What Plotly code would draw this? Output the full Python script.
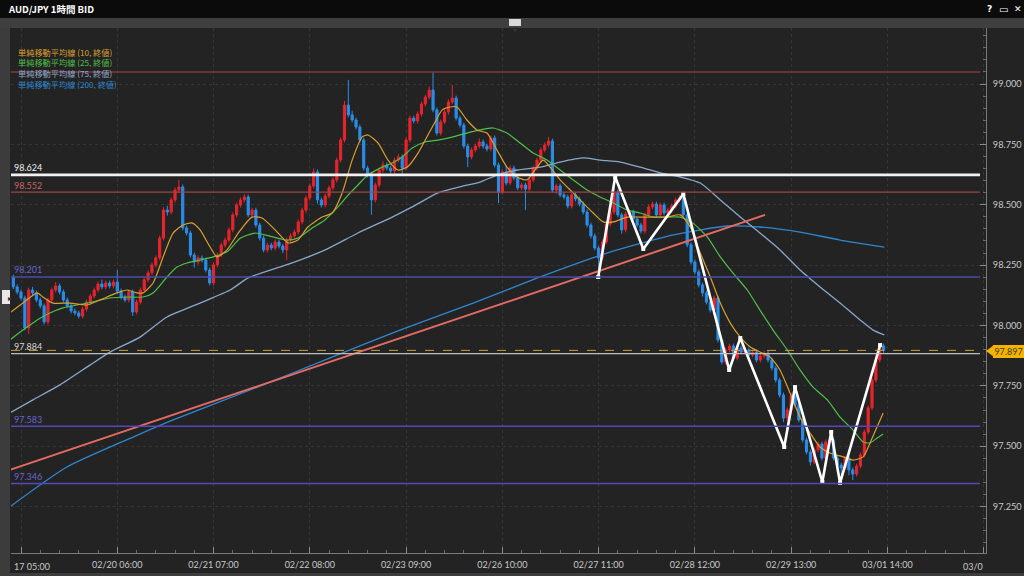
import plotly.graph_objects as go

# ---------------- data ----------------
bar_no = list(range(-2, 225))

opens = [
98.201, 98.160, 98.139, 98.114, 97.990, 98.147, 98.135, 98.106, 98.081, 98.015,
98.106, 98.147, 98.164, 98.139, 98.106, 98.081, 98.060, 98.052, 98.039, 98.068,
98.097, 98.122, 98.147, 98.172, 98.160, 98.176, 98.164, 98.180, 98.143, 98.118,
98.106, 98.139, 98.056, 98.097, 98.147, 98.189, 98.218, 98.251, 98.280, 98.362,
98.478, 98.470, 98.520, 98.561, 98.574, 98.404, 98.383, 98.292, 98.263, 98.280,
98.271, 98.230, 98.176, 98.251, 98.292, 98.333, 98.354, 98.396, 98.458, 98.499,
98.520, 98.532, 98.458, 98.478, 98.416, 98.362, 98.313, 98.333, 98.321, 98.346,
98.329, 98.313, 98.354, 98.371, 98.387, 98.429, 98.478, 98.528, 98.578, 98.636,
98.520, 98.499, 98.536, 98.570, 98.603, 98.685, 98.768, 98.913, 98.872, 98.851,
98.822, 98.768, 98.652, 98.623, 98.520, 98.582, 98.644, 98.665, 98.652, 98.640,
98.685, 98.698, 98.652, 98.768, 98.859, 98.847, 98.876, 98.917, 98.946, 98.975,
98.893, 98.797, 98.843, 98.884, 98.926, 98.942, 98.859, 98.830, 98.743, 98.698,
98.727, 98.743, 98.760, 98.743, 98.731, 98.777, 98.665, 98.553, 98.636, 98.590,
98.652, 98.611, 98.570, 98.582, 98.565, 98.603, 98.652, 98.685, 98.727, 98.748,
98.764, 98.561, 98.578, 98.541, 98.532, 98.495, 98.541, 98.524, 98.503, 98.470,
98.416, 98.371, 98.321, 98.280, 98.346, 98.420, 98.470, 98.553, 98.458, 98.396,
98.462, 98.470, 98.441, 98.416, 98.391, 98.458, 98.491, 98.503, 98.458, 98.499,
98.466, 98.478, 98.495, 98.520, 98.528, 98.458, 98.334, 98.263, 98.222, 98.168,
98.135, 98.097, 98.064, 98.114, 97.940, 97.849, 97.899, 97.915, 97.866, 97.907,
97.890, 97.899, 97.878, 97.890, 97.857, 97.874, 97.886, 97.857, 97.824, 97.774,
97.712, 97.617, 97.650, 97.708, 97.671, 97.609, 97.526, 97.476, 97.435, 97.485,
97.509, 97.451, 97.518, 97.526, 97.451, 97.422, 97.410, 97.451, 97.402, 97.385,
97.418, 97.464, 97.559, 97.659, 97.774, 97.857, 97.915]

highs = [
98.211, 98.170, 98.149, 98.124, 98.157, 98.160, 98.145, 98.116, 98.091, 98.116,
98.157, 98.180, 98.174, 98.149, 98.116, 98.091, 98.070, 98.062, 98.078, 98.107,
98.132, 98.157, 98.182, 98.190, 98.186, 98.186, 98.190, 98.230, 98.153, 98.128,
98.149, 98.149, 98.107, 98.157, 98.199, 98.228, 98.261, 98.290, 98.372, 98.490,
98.495, 98.530, 98.571, 98.603, 98.584, 98.414, 98.393, 98.302, 98.290, 98.290,
98.281, 98.240, 98.261, 98.302, 98.343, 98.364, 98.406, 98.468, 98.509, 98.530,
98.545, 98.542, 98.488, 98.488, 98.426, 98.372, 98.343, 98.343, 98.356, 98.356,
98.339, 98.364, 98.381, 98.397, 98.439, 98.488, 98.538, 98.588, 98.650, 98.646,
98.530, 98.546, 98.580, 98.613, 98.695, 98.778, 98.930, 99.017, 98.890, 98.861,
98.832, 98.778, 98.662, 98.633, 98.592, 98.654, 98.680, 98.675, 98.662, 98.695,
98.710, 98.708, 98.778, 98.869, 98.869, 98.886, 98.927, 98.956, 98.990, 99.050,
98.903, 98.853, 98.894, 98.936, 98.996, 98.952, 98.869, 98.840, 98.753, 98.737,
98.753, 98.775, 98.770, 98.753, 98.787, 98.787, 98.675, 98.646, 98.660, 98.662,
98.662, 98.621, 98.592, 98.592, 98.613, 98.662, 98.695, 98.737, 98.758, 98.780,
98.774, 98.588, 98.588, 98.551, 98.542, 98.551, 98.551, 98.534, 98.513, 98.480,
98.426, 98.381, 98.331, 98.356, 98.430, 98.480, 98.615, 98.563, 98.468, 98.472,
98.480, 98.480, 98.451, 98.426, 98.468, 98.501, 98.513, 98.513, 98.509, 98.509,
98.488, 98.505, 98.530, 98.540, 98.538, 98.468, 98.344, 98.273, 98.232, 98.178,
98.145, 98.107, 98.124, 98.124, 97.950, 97.909, 97.925, 97.925, 97.917, 97.917,
97.909, 97.909, 97.900, 97.900, 97.884, 97.896, 97.896, 97.867, 97.834, 97.784,
97.722, 97.660, 97.720, 97.718, 97.681, 97.619, 97.536, 97.486, 97.495, 97.519,
97.519, 97.528, 97.540, 97.536, 97.461, 97.432, 97.461, 97.461, 97.412, 97.428,
97.474, 97.569, 97.669, 97.784, 97.867, 97.925, 97.925]

lows = [
98.150, 98.129, 98.104, 97.980, 97.965, 98.125, 98.096, 98.071, 98.005, 98.005,
98.096, 98.137, 98.129, 98.096, 98.071, 98.050, 98.042, 98.029, 98.029, 98.058,
98.087, 98.112, 98.137, 98.150, 98.150, 98.154, 98.154, 98.133, 98.108, 98.096,
98.096, 98.040, 98.046, 98.087, 98.137, 98.179, 98.208, 98.241, 98.270, 98.352,
98.455, 98.460, 98.510, 98.551, 98.394, 98.373, 98.282, 98.240, 98.253, 98.261,
98.220, 98.166, 98.166, 98.241, 98.282, 98.323, 98.344, 98.386, 98.448, 98.489,
98.510, 98.448, 98.448, 98.406, 98.352, 98.303, 98.303, 98.311, 98.311, 98.319,
98.300, 98.271, 98.344, 98.361, 98.377, 98.419, 98.468, 98.518, 98.568, 98.505,
98.489, 98.489, 98.526, 98.560, 98.593, 98.675, 98.758, 98.862, 98.841, 98.812,
98.758, 98.642, 98.613, 98.458, 98.510, 98.572, 98.634, 98.642, 98.630, 98.630,
98.675, 98.620, 98.642, 98.758, 98.837, 98.837, 98.866, 98.907, 98.936, 98.883,
98.787, 98.787, 98.833, 98.874, 98.916, 98.849, 98.820, 98.733, 98.656, 98.688,
98.717, 98.733, 98.733, 98.721, 98.721, 98.655, 98.507, 98.543, 98.580, 98.580,
98.601, 98.560, 98.560, 98.478, 98.555, 98.593, 98.642, 98.675, 98.717, 98.738,
98.551, 98.545, 98.531, 98.522, 98.485, 98.485, 98.514, 98.493, 98.460, 98.406,
98.361, 98.311, 98.209, 98.270, 98.336, 98.410, 98.460, 98.448, 98.380, 98.386,
98.452, 98.431, 98.406, 98.381, 98.381, 98.448, 98.481, 98.448, 98.448, 98.456,
98.456, 98.468, 98.485, 98.510, 98.448, 98.324, 98.253, 98.212, 98.158, 98.120,
98.087, 98.054, 98.054, 97.930, 97.839, 97.839, 97.889, 97.856, 97.856, 97.880,
97.880, 97.868, 97.868, 97.847, 97.847, 97.864, 97.847, 97.814, 97.764, 97.702,
97.600, 97.607, 97.640, 97.661, 97.599, 97.516, 97.466, 97.420, 97.425, 97.475,
97.441, 97.441, 97.508, 97.441, 97.390, 97.370, 97.400, 97.380, 97.360, 97.375,
97.408, 97.454, 97.549, 97.649, 97.764, 97.847, 97.887]

closes = [
98.160, 98.139, 98.114, 97.990, 98.147, 98.135, 98.106, 98.081, 98.015, 98.106,
98.147, 98.164, 98.139, 98.106, 98.081, 98.060, 98.052, 98.039, 98.068, 98.097,
98.122, 98.147, 98.172, 98.160, 98.176, 98.164, 98.180, 98.143, 98.118, 98.106,
98.139, 98.056, 98.097, 98.147, 98.189, 98.218, 98.251, 98.280, 98.362, 98.478,
98.470, 98.520, 98.561, 98.574, 98.404, 98.383, 98.292, 98.263, 98.280, 98.271,
98.230, 98.176, 98.251, 98.292, 98.333, 98.354, 98.396, 98.458, 98.499, 98.520,
98.532, 98.458, 98.478, 98.416, 98.362, 98.313, 98.333, 98.321, 98.346, 98.329,
98.313, 98.354, 98.371, 98.387, 98.429, 98.478, 98.528, 98.578, 98.636, 98.520,
98.499, 98.536, 98.570, 98.603, 98.685, 98.768, 98.913, 98.872, 98.851, 98.822,
98.768, 98.652, 98.623, 98.520, 98.582, 98.644, 98.665, 98.652, 98.640, 98.685,
98.698, 98.652, 98.768, 98.859, 98.847, 98.876, 98.917, 98.946, 98.975, 98.893,
98.797, 98.843, 98.884, 98.926, 98.942, 98.859, 98.830, 98.743, 98.698, 98.727,
98.743, 98.760, 98.743, 98.731, 98.777, 98.665, 98.553, 98.636, 98.590, 98.652,
98.611, 98.570, 98.582, 98.565, 98.603, 98.652, 98.685, 98.727, 98.748, 98.764,
98.561, 98.578, 98.541, 98.532, 98.495, 98.541, 98.524, 98.503, 98.470, 98.416,
98.371, 98.321, 98.280, 98.346, 98.420, 98.470, 98.553, 98.458, 98.396, 98.462,
98.470, 98.441, 98.416, 98.391, 98.458, 98.491, 98.503, 98.458, 98.499, 98.466,
98.478, 98.495, 98.520, 98.528, 98.458, 98.334, 98.263, 98.222, 98.168, 98.135,
98.097, 98.064, 98.114, 97.940, 97.849, 97.899, 97.915, 97.866, 97.907, 97.890,
97.899, 97.878, 97.890, 97.857, 97.874, 97.886, 97.857, 97.824, 97.774, 97.712,
97.617, 97.650, 97.708, 97.671, 97.609, 97.526, 97.476, 97.435, 97.485, 97.509,
97.451, 97.518, 97.526, 97.451, 97.422, 97.410, 97.451, 97.402, 97.385, 97.418,
97.464, 97.559, 97.659, 97.774, 97.857, 97.915, 97.897]

# simple moving averages (bar position, price)
sma10_bar = [-2.9, 0.5, 4.2, 5.7, 8.3, 12.7, 17.1, 20.5, 24.9, 27.5, 30.1, 31.7, 34.3, 36.9, 39.5,
             42.1, 44.4, 46.5, 49.1, 50.9, 53.5, 56.4, 60.0, 62.6, 66.0, 69.4, 71.9, 74.5, 78.2,
             80.8, 83.4, 86.0, 88.6, 90.1, 92.7, 95.3, 97.9, 100.3, 103.1, 106.8, 109.4, 111.4,
             113.2, 115.8, 118.4, 121.0, 123.6, 126.2, 128.8, 131.4, 134.0, 135.6, 137.4, 140.0,
             143.4, 146.0, 148.6, 151.2, 153.8, 157.4, 160.8, 164.2, 167.8, 171.2, 173.8, 176.4,
             179.0, 181.6, 184.2, 186.8, 189.4, 191.9, 194.5, 197.1, 199.7, 202.3, 204.9, 207.5,
             210.1, 213.5, 216.1, 218.7, 220.5, 222.3, 223.9]
sma10_val = [98.052, 98.093, 98.135, 98.118, 98.093, 98.093, 98.085, 98.106, 98.135, 98.147, 98.135,
             98.135, 98.176, 98.284, 98.383, 98.416, 98.425, 98.396, 98.325, 98.284, 98.313, 98.383,
             98.449, 98.445, 98.396, 98.342, 98.354, 98.408, 98.449, 98.466, 98.549, 98.685, 98.781,
             98.789, 98.756, 98.685, 98.644, 98.656, 98.714, 98.822, 98.893, 98.905, 98.905, 98.851,
             98.810, 98.797, 98.727, 98.656, 98.615, 98.603, 98.656, 98.685, 98.656, 98.603, 98.549,
             98.507, 98.466, 98.429, 98.429, 98.449, 98.449, 98.449, 98.449, 98.458, 98.408, 98.300,
             98.201, 98.093, 98.010, 97.952, 97.911, 97.890, 97.870, 97.816, 97.721, 97.621, 97.555,
             97.497, 97.472, 97.456, 97.443, 97.456, 97.514, 97.580, 97.638]

sma25_bar = [-2.9, 0.5, 4.2, 7.5, 10.9, 14.5, 18.7, 23.1, 27.5, 31.7, 34.3, 37.9, 40.5, 43.1, 46.5,
             49.9, 53.5, 57.0, 60.8, 64.4, 68.9, 71.9, 75.6, 78.9, 82.3, 85.0, 87.5, 90.1, 93.8,
             96.4, 99.0, 101.6, 104.9, 108.3, 112.2, 115.8, 119.2, 122.6, 126.2, 129.6, 133.0,
             136.6, 140.0, 143.4, 147.0, 150.4, 153.8, 157.4, 160.8, 164.2, 167.8, 171.2, 174.5,
             178.2, 181.6, 184.9, 188.6, 191.9, 195.3, 199.0, 202.3, 205.7, 209.4, 212.7, 216.1,
             218.7, 220.5, 222.3, 223.9]
sma25_val = [97.940, 97.981, 98.023, 98.052, 98.073, 98.085, 98.098, 98.114, 98.118, 98.118, 98.135,
             98.201, 98.242, 98.259, 98.271, 98.284, 98.305, 98.362, 98.383, 98.371, 98.354, 98.362,
             98.404, 98.437, 98.491, 98.541, 98.582, 98.623, 98.656, 98.673, 98.698, 98.735, 98.760,
             98.768, 98.781, 98.797, 98.810, 98.818, 98.797, 98.756, 98.714, 98.685, 98.644, 98.603,
             98.561, 98.532, 98.507, 98.478, 98.466, 98.449, 98.449, 98.449, 98.424, 98.367, 98.284,
             98.217, 98.147, 98.064, 97.981, 97.899, 97.816, 97.745, 97.692, 97.621, 97.567, 97.518,
             97.514, 97.534, 97.551]

sma75_bar = [-2.9, 3.1, 10.1, 17.9, 23.1, 30.9, 37.9, 46.5, 54.3, 59.0, 70.4, 79.0, 87.5, 96.4,
             101.6, 108.3, 114.0, 119.2, 123.6, 128.8, 134.8, 140.0, 146.0, 150.4, 155.6, 160.8,
             166.0, 171.2, 176.4, 181.6, 186.8, 191.9, 197.1, 202.3, 207.5, 212.7, 217.9, 221.3, 224.2]
sma75_val = [97.638, 97.692, 97.754, 97.836, 97.890, 97.952, 98.035, 98.093, 98.147, 98.197, 98.259,
             98.313, 98.383, 98.449, 98.491, 98.549, 98.574, 98.594, 98.623, 98.644, 98.656, 98.677,
             98.694, 98.685, 98.677, 98.656, 98.632, 98.615, 98.590, 98.520, 98.449, 98.383, 98.313,
             98.230, 98.160, 98.093, 98.023, 97.981, 97.961]

sma200_bar = [-2.9, 11.9, 29.1, 39.5, 59.5, 80.3, 98.4, 117.4, 134.8, 152.2, 169.4, 183.4, 191.9,
              202.3, 212.7, 224.2]
sma200_val = [97.249, 97.414, 97.538, 97.609, 97.733, 97.866, 97.981, 98.093, 98.201, 98.300, 98.375,
              98.412, 98.408, 98.387, 98.354, 98.325]

trend_bar = [-2.9, 193.2]
trend_val = [97.402, 98.458]

zigzag_bar = [149.9, 154.3, 161.6, 172.0, 183.9, 186.8, 198.2, 201.0, 208.1, 210.4, 212.7, 223.1]
zigzag_val = [98.201, 98.615, 98.317, 98.545, 97.816, 97.948, 97.497, 97.745, 97.352, 97.559, 97.348, 97.919]

levels = [99.050, 98.624, 98.552, 98.201, 97.884, 97.583, 97.346]
level_colors = ["#7e3b3b", "#f2f2f2", "#9c4646", "#4c4ca8", "#bdbdbd", "#5548b8", "#5548b8"]
level_widths = [1.6, 2.6, 1.2, 1.4, 1.2, 1.6, 1.6]
labelled_levels = ["", "98.624", "98.552", "98.201", "97.884", "97.583", "97.346"]
label_colors = ["#000", "#f0f0f0", "#c86464", "#6a64d0", "#d6d6d6", "#6a64d0", "#6a64d0"]
last_price = 97.897

x_tick_bars = [25, 50, 75, 100, 125, 150, 175, 200, 225]
x_tick_text = ["02/20 06:00", "02/21 07:00", "02/22 08:00", "02/23 09:00", "02/26 10:00",
               "02/27 11:00", "02/28 12:00", "02/29 13:00", "03/01 14:00"]
y_ticks = [97.25, 97.50, 97.75, 98.00, 98.25, 98.50, 98.75, 99.00]
y_tick_text = ["97.250", "97.500", "97.750", "98.000", "98.250", "98.500", "98.750", "99.000"]

legend_names = ["単純移動平均線 (10, 終値)", "単純移動平均線 (25, 終値)",
                "単純移動平均線 (75, 終値)", "単純移動平均線 (200, 終値)"]
ma_colors = ["#d9a030", "#4fbf4a", "#88a8cc", "#2f86d0"]

# ---------------- layout helpers ----------------
W, H = 1024, 576
PL, PR, PT, PB = 11, 986, 28, 553
BG = "#232323"
RED = "#e8242c"
BLUE = "#2a8ee8"
CJK = "Noto Sans CJK JP"


def px(x):
    return (x - PL) / (PR - PL)


def py(y):
    return (PB - y) / (PB - PT)


fig = go.Figure()

fig.add_trace(go.Candlestick(
    x=bar_no, open=opens, high=highs, low=lows, close=closes,
    increasing=dict(line=dict(color=RED, width=1), fillcolor=RED),
    decreasing=dict(line=dict(color=BLUE, width=1), fillcolor=BLUE),
    whiskerwidth=0, showlegend=False, hoverinfo="skip"))

for bx, vals, col, w in [(sma200_bar, sma200_val, ma_colors[3], 1.3),
                         (sma75_bar, sma75_val, ma_colors[2], 1.3),
                         (sma25_bar, sma25_val, ma_colors[1], 1.2),
                         (sma10_bar, sma10_val, ma_colors[0], 1.2)]:
    fig.add_trace(go.Scatter(x=bx, y=vals, mode="lines",
                             line=dict(color=col, width=w, shape="spline", smoothing=0.6),
                             showlegend=False, hoverinfo="skip"))

fig.add_trace(go.Scatter(x=trend_bar, y=trend_val, mode="lines",
                         line=dict(color="#e46a64", width=2), showlegend=False, hoverinfo="skip"))

fig.add_trace(go.Scatter(x=zigzag_bar, y=zigzag_val, mode="lines+markers",
                         line=dict(color="#ffffff", width=2.6),
                         marker=dict(symbol="square", size=4, color="#ffffff"),
                         showlegend=False, hoverinfo="skip"))

shapes = []
annotations = []

# horizontal levels
for lv, col, w in zip(levels, level_colors, level_widths):
    shapes.append(dict(type="line", xref="paper", yref="y", x0=0, x1=px(980), y0=lv, y1=lv,
                       line=dict(color=col, width=w), layer="above"))
shapes.append(dict(type="line", xref="paper", yref="y", x0=0, x1=px(980), y0=last_price, y1=last_price,
                   line=dict(color="#c9a035", width=1, dash="dash"), layer="above"))

for lv, txt, col in zip(levels, labelled_levels, label_colors):
    if txt:
        annotations.append(dict(xref="paper", yref="y", x=px(12), y=lv, yshift=7, text=txt,
                                showarrow=False, xanchor="left", yanchor="middle",
                                font=dict(family="Lato", size=9, color=col)))

# window chrome
shapes += [
    dict(type="rect", xref="paper", yref="paper", x0=px(0), x1=px(W), y0=py(18), y1=py(0),
         fillcolor="#0b0b0b", line=dict(width=0), layer="below"),
    dict(type="rect", xref="paper", yref="paper", x0=px(0), x1=px(W), y0=py(28), y1=py(18),
         fillcolor="#3f3f3f", line=dict(width=0), layer="below"),
    dict(type="rect", xref="paper", yref="paper", x0=px(0), x1=px(10), y0=py(H), y1=py(28),
         fillcolor="#3c3c3c", line=dict(width=0), layer="below"),
    dict(type="rect", xref="paper", yref="paper", x0=px(0), x1=px(W), y0=py(H), y1=py(573),
         fillcolor="#3c3c3c", line=dict(width=0), layer="below"),
    dict(type="rect", xref="paper", yref="paper", x0=px(509), x1=px(521), y0=py(26), y1=py(19),
         fillcolor="#d8d8d8", line=dict(width=0)),
    dict(type="rect", xref="paper", yref="paper", x0=px(2), x1=px(10), y0=py(304), y1=py(290),
         fillcolor="#e8e8e8", line=dict(width=0)),
]
annotations += [
    dict(xref="paper", yref="paper", x=px(515), y=py(22.5), text="▾", showarrow=False,
         font=dict(size=8, color="#333333")),
    dict(xref="paper", yref="paper", x=px(6), y=py(297), text="▸", showarrow=False,
         font=dict(size=8, color="#333333")),
    dict(xref="paper", yref="paper", x=px(6), y=py(9), text="<b>AUD/JPY 1時間 BID</b>", showarrow=False,
         xanchor="left", yanchor="middle", font=dict(family=CJK, size=9.5, color="#ffffff")),
    dict(xref="paper", yref="paper", x=px(985), y=py(9), text="<b>?</b>", showarrow=False,
         xanchor="left", yanchor="middle", font=dict(family="DejaVu Sans", size=9, color="#ffffff")),
    dict(xref="paper", yref="paper", x=px(997), y=py(9), text="▭", showarrow=False,
         xanchor="left", yanchor="middle", font=dict(family="DejaVu Sans", size=10, color="#ffffff")),
    dict(xref="paper", yref="paper", x=px(1012), y=py(9), text="✕", showarrow=False,
         xanchor="left", yanchor="middle", font=dict(family="DejaVu Sans", size=9, color="#ffffff")),
]

# legend text
for i, (name, col) in enumerate(zip(legend_names, ma_colors)):
    annotations.append(dict(xref="paper", yref="paper", x=px(16), y=py(51.5 + 10.7 * i), text=name,
                            showarrow=False, xanchor="left", yanchor="middle", height=10,
                            font=dict(family=CJK, size=8.2, color=col)))

# cut-off edge tick labels
annotations += [
    dict(xref="paper", yref="paper", x=px(12), y=py(566), text="17 05:00", showarrow=False,
         xanchor="left", yanchor="middle", font=dict(family="Lato", size=9, color="#c8c8c8")),
    dict(xref="paper", yref="paper", x=px(961), y=py(566), text="03/0", showarrow=False,
         xanchor="left", yanchor="middle", font=dict(family="Lato", size=9, color="#c8c8c8")),
]

# current price tag: arrow tip + boxed label
shapes.append(dict(type="path", xref="paper", yref="paper",
                   path=f"M {px(986)} {py(351)} L {px(994)} {py(345)} L {px(994)} {py(357)} Z",
                   fillcolor="#f3b400", line=dict(width=0), layer="above"))
annotations.append(dict(xref="paper", yref="paper", x=px(993), y=py(351), text=f"{last_price:.3f}",
                        xanchor="left", yanchor="middle", showarrow=False,
                        bgcolor="#f3b400", borderpad=1, borderwidth=0, width=29, height=11,
                        font=dict(family="Lato", size=9, color="#4a3a10")))

fig.update_layout(
    width=W, height=H,
    margin=dict(l=PL, r=W - PR, t=PT, b=H - PB, autoexpand=False),
    paper_bgcolor=BG, plot_bgcolor=BG,
    showlegend=False, boxgap=0.2,
    shapes=shapes, annotations=annotations,
    xaxis=dict(range=[-2.6, 250.6], rangeslider=dict(visible=False), automargin=False,
               tickmode="array", tickvals=[0] + x_tick_bars + [250], ticktext=[""] + x_tick_text + [""],
               ticks="inside", ticklen=6, tickcolor="#8a8a8a", ticklabelstandoff=3,
               minor=dict(dtick=5, tick0=0, ticks="inside", ticklen=3, tickcolor="#6a6a6a", showgrid=False),
               showline=True, linecolor="#7a7a7a", linewidth=1,
               showgrid=True, gridcolor="#353535", griddash="dot", gridwidth=1,
               tickfont=dict(family="Lato", size=9, color="#c8c8c8"), zeroline=False, fixedrange=True),
    yaxis=dict(range=[97.058, 99.232], side="right", automargin=False,
               tickmode="array", tickvals=y_ticks, ticktext=y_tick_text,
               ticks="inside", ticklen=6, tickcolor="#8a8a8a", ticklabelstandoff=4,
               minor=dict(dtick=0.05, tick0=97.0, ticks="inside", ticklen=3, tickcolor="#6a6a6a", showgrid=False),
               showline=True, linecolor="#7a7a7a", linewidth=1,
               showgrid=True, gridcolor="#353535", griddash="dot", gridwidth=1,
               tickfont=dict(family="Lato", size=9.2, color="#c8c8c8"), zeroline=False, fixedrange=True),
)

fig.write_html("out.html", config={"displayModeBar": False},
               post_script="document.body.style.margin='0';document.body.style.background='#232323';"
                           "document.documentElement.style.overflow='hidden';")
